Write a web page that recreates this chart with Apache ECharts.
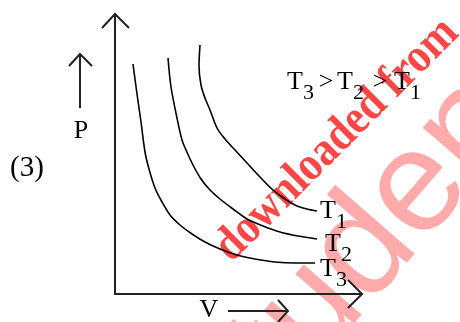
<!DOCTYPE html>
<html>
<head>
<meta charset="utf-8">
<script src="https://cdn.jsdelivr.net/npm/echarts@6/dist/echarts.min.js"></script>
<style>
html, body { margin: 0; padding: 0; background: #fff; }
#chart { width: 460px; height: 322px; }
</style>
</head>
<body>
<div id="chart"></div>
<script>
// 三条等温线, 数值按图上估读 (任意单位)
var vT1 = [85, 84, 86, 90, 95, 102, 110, 120, 132, 145, 158, 170, 182, 192, 202];
var pT1 = [249, 228, 209, 196, 184, 166, 155, 144, 131, 117, 104, 95, 88, 85, 83];

var vT2 = [53, 56, 62, 67, 71, 78, 86, 95, 105, 118, 132, 148, 165, 183, 202];
var pT2 = [236, 207, 176, 154, 144, 129, 115, 104, 95, 85, 75, 68, 62, 58, 55];

var vT3 = [18, 22, 26, 30, 34, 40, 47, 55, 65, 77, 90, 105, 122, 140, 160, 180, 200];
var pT3 = [230, 200, 172, 142, 125, 106, 92, 79, 69, 60, 52, 45, 39, 35, 32, 31, 31];

var curveNames = ["T1", "T2", "T3"];

var serif = '"Liberation Serif", "Times New Roman", serif';

function zip(xs, ys) {
  return xs.map(function(x, i) {
    return [x, ys[i]];
  });
}

function curve(name, xs, ys) {
  return {
    name: name,
    type: "line",
    data: zip(xs, ys),
    symbol: "none",
    smooth: 0.3,
    z: 3,
    lineStyle: { color: "#000", width: 1.6 }
  };
}

function txt(x, y, s, size, align) {
  return {
    type: "text",
    x: x,
    y: y,
    z: 20,
    style: {
      text: s,
      font: size + "px " + serif,
      fill: "#000",
      align: align || "left",
      verticalAlign: "middle"
    }
  };
}

// T 加下标
function tSub(x, y, sub) {
  return [txt(x, y, "T", 26), txt(x + 16, y + 11, sub, 22)];
}

function chevron(points) {
  return {
    type: "polyline",
    z: 20,
    shape: { points: points },
    style: { stroke: "#222", lineWidth: 2, fill: null }
  };
}

var graphics = [
  // 水印
  {
    type: "text",
    x: 211,
    y: 427,
    rotation: (49 * Math.PI) / 180,
    z: 0,
    style: {
      text: "student",
      font: '145px "Liberation Sans", Arial, sans-serif',
      fill: "#ffabab",
      align: "left",
      verticalAlign: "middle"
    }
  },
  {
    type: "text",
    x: 337,
    y: 140,
    rotation: Math.PI / 4,
    scaleY: 1.12,
    z: 1,
    style: {
      text: "downloaded from",
      font: "bold 43px " + serif,
      fill: "#ff4646",
      align: "center",
      verticalAlign: "middle"
    }
  },
  // 坐标轴箭头
  chevron([[102, 28], [115, 14], [129, 28]]),
  chevron([[348, 280], [362, 294], [348, 308]]),
  // P 箭头
  {
    type: "line",
    z: 20,
    shape: { x1: 80, y1: 108, x2: 80, y2: 55 },
    style: { stroke: "#222", lineWidth: 2 }
  },
  chevron([[69, 66], [80, 54], [92, 66]]),
  // V 箭头
  {
    type: "line",
    z: 20,
    shape: { x1: 228, y1: 311, x2: 288, y2: 311 },
    style: { stroke: "#222", lineWidth: 2 }
  },
  chevron([[278, 300], [288, 311], [278, 322]]),
  txt(81, 131, "P", 26, "center"),
  txt(209, 310, "V", 26, "center"),
  txt(27, 168, "(3)", 29, "center"),
  txt(326, 82, ">", 26, "center"),
  txt(380, 82, ">", 26, "center")
]
  .concat(tSub(287, 82, "3"))
  .concat(tSub(337, 82, "2"))
  .concat(tSub(394, 82, "1"))
  .concat(tSub(320, 211, "1"))
  .concat(tSub(325, 244, "2"))
  .concat(tSub(320, 269, "3"));

var option = {
  animation: false,
  backgroundColor: "#fff",
  grid: { left: 115, top: 14, width: 247, height: 280 },
  xAxis: {
    type: "value",
    min: 0,
    max: 247,
    axisLine: { lineStyle: { color: "#222", width: 2 } },
    axisTick: { show: false },
    axisLabel: { show: false },
    splitLine: { show: false }
  },
  yAxis: {
    type: "value",
    min: 0,
    max: 280,
    axisLine: { show: true, lineStyle: { color: "#222", width: 2 } },
    axisTick: { show: false },
    axisLabel: { show: false },
    splitLine: { show: false }
  },
  series: [
    curve(curveNames[0], vT1, pT1),
    curve(curveNames[1], vT2, pT2),
    curve(curveNames[2], vT3, pT3)
  ],
  graphic: graphics
};

var myChart = echarts.init(document.getElementById("chart"));
myChart.setOption(option);
</script>
</body>
</html>
